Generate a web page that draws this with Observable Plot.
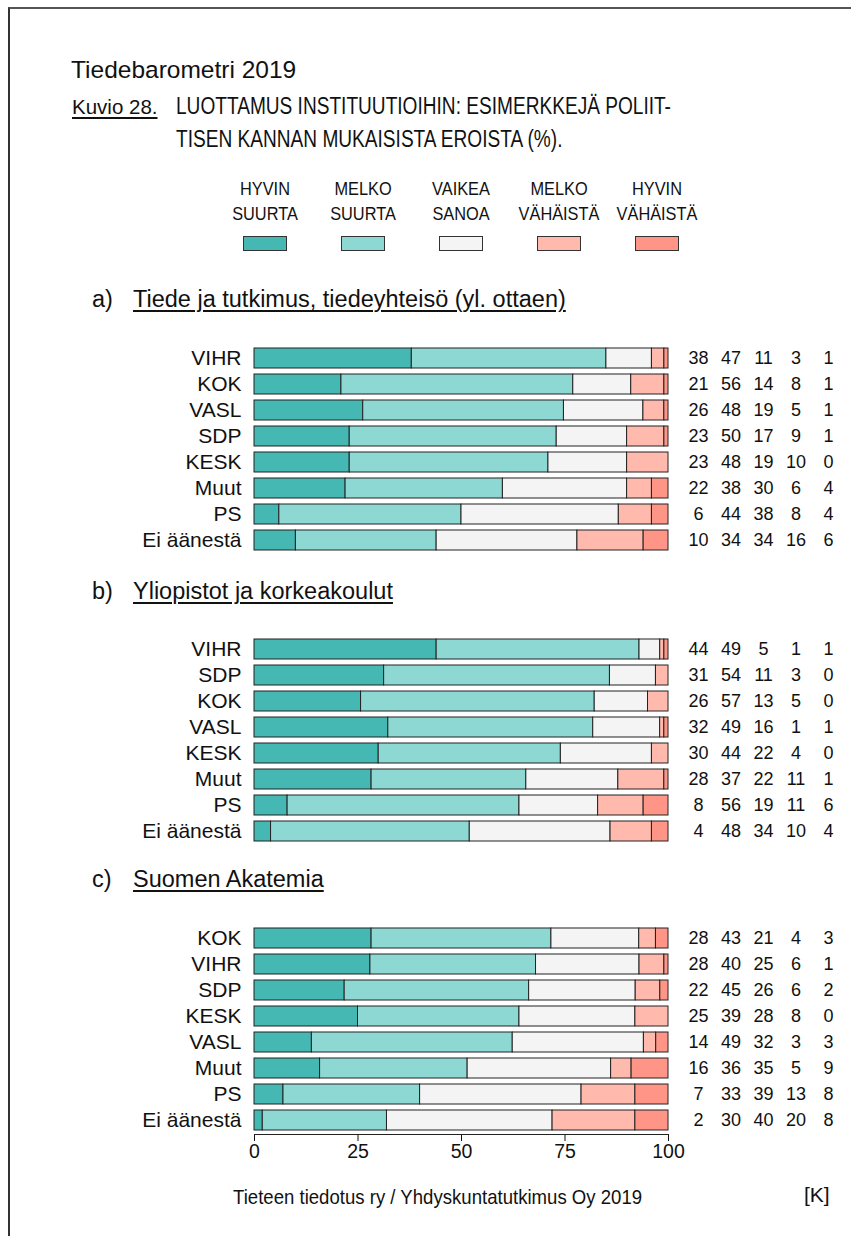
<!DOCTYPE html>
<html><head><meta charset="utf-8">
<script src="https://cdn.jsdelivr.net/npm/d3@7"></script>
<script src="https://cdn.jsdelivr.net/npm/@observablehq/plot@0.6"></script>
<style>
body{margin:0;background:#fff;}
#page{position:relative;width:851px;height:1236px;overflow:hidden;font-family:"Liberation Sans",Arial,sans-serif;color:#111;background:#fff;}
.abs{position:absolute;white-space:nowrap;line-height:1;}
.frame{position:absolute;left:8px;top:7px;width:900px;height:1300px;border-top:2px solid #555;border-left:2px solid #333;}
.sw{position:absolute;width:42px;height:13px;border:1px solid #333;}
.plot{position:absolute;left:0;}
</style></head><body><div id="page"><div class="frame"></div></div>
<script>
// ---- data ----
const categories = ["HYVIN SUURTA","MELKO SUURTA","VAIKEA SANOA","MELKO VÄHÄISTÄ","HYVIN VÄHÄISTÄ"];
const legendLines = [["HYVIN","SUURTA"],["MELKO","SUURTA"],["VAIKEA","SANOA"],["MELKO","VÄHÄISTÄ"],["HYVIN","VÄHÄISTÄ"]];
const colors = ["#45b8b3","#8ed8d3","#f4f4f4","#ffbaad","#ff9586"];

const titleA = "Tiede ja tutkimus, tiedeyhteisö (yl. ottaen)";
const partiesA = ["VIHR","KOK","VASL","SDP","KESK","Muut","PS","Ei äänestä"];
const valuesA = [[38,47,11,3,1],[21,56,14,8,1],[26,48,19,5,1],[23,50,17,9,1],[23,48,19,10,0],[22,38,30,6,4],[6,44,38,8,4],[10,34,34,16,6]];

const titleB = "Yliopistot ja korkeakoulut";
const partiesB = ["VIHR","SDP","KOK","VASL","KESK","Muut","PS","Ei äänestä"];
const valuesB = [[44,49,5,1,1],[31,54,11,3,0],[26,57,13,5,0],[32,49,16,1,1],[30,44,22,4,0],[28,37,22,11,1],[8,56,19,11,6],[4,48,34,10,4]];

const titleC = "Suomen Akatemia";
const partiesC = ["KOK","VIHR","SDP","KESK","VASL","Muut","PS","Ei äänestä"];
const valuesC = [[28,43,21,4,3],[28,40,25,6,1],[22,45,26,6,2],[25,39,28,8,0],[14,49,32,3,3],[16,36,35,5,9],[7,33,39,13,8],[2,30,40,20,8]];

const xTicks = [0,25,50,75,100];

// ---- layout helpers ----
const page = document.getElementById("page");
function addText(txt, left, top, size, extra = {}) {
  const d = document.createElement("div");
  d.className = "abs";
  d.textContent = txt;
  d.style.left = left + "px";
  d.style.top = top + "px";
  d.style.fontSize = size + "px";
  Object.assign(d.style, extra);
  page.appendChild(d);
  return d;
}
const narrow = {transform: "scaleX(0.83)", transformOrigin: "left top"};

addText("Tiedebarometri 2019", 71, 57.5, 24.5);
addText("Kuvio 28.", 72, 97, 20.5, {textDecoration:"underline", textUnderlineOffset:"3px"});
addText("LUOTTAMUS INSTITUUTIOIHIN: ESIMERKKEJÄ POLIIT-", 176, 94.5, 23, narrow);
addText("TISEN KANNAN MUKAISISTA EROISTA (%).", 176, 127.5, 23, narrow);

// legend
categories.forEach((c, i) => {
  const cx = 265 + 98 * i;
  legendLines[i].forEach((ln, k) => {
    addText(ln, cx - 60, 179 + 25 * k, 19, {width: "120px", textAlign: "center", transform: "scaleX(0.86)", transformOrigin: "center top"});
  });
  const s = document.createElement("div");
  s.className = "sw";
  s.style.left = (cx - 22) + "px";
  s.style.top = "236px";
  s.style.background = colors[i];
  page.appendChild(s);
});

// panel headings
function heading(letter, txt, top) {
  addText(letter, 92, top, 23.5);
  addText(txt, 133, top, 23.5, {textDecoration:"underline", textUnderlineOffset:"3px", textDecorationThickness:"1.5px"});
}
heading("a)", titleA, 288);
heading("b)", titleB, 580);
heading("c)", titleC, 868);

// ---- panels ----
const colStart = 30, colStep = 32.5;
function panel(parties, values, top, withAxis) {
  const rows = [];
  parties.forEach((p, i) => values[i].forEach((v, j) => rows.push({party: p, cat: categories[j], value: v, col: j})));
  const marks = [
    Plot.barX(rows, Plot.stackX({x: "value", y: "party", fill: "cat", order: categories, offset: "normalize", stroke: "#222", strokeWidth: 1})),
    Plot.axisY({tickSize: 0, tickPadding: 13, fontSize: 21, label: null}),
    ...categories.map((c, j) => Plot.text(rows.filter(d => d.col === j), {
      y: "party", text: d => String(d.value), frameAnchor: "right", dx: colStart + colStep * j,
      fontSize: 18, textAnchor: "middle", fill: "#111"
    }))
  ];
  if (withAxis) {
    marks.push(Plot.axisX(xTicks.map(t => t / 100), {tickFormat: d => String(Math.round(d * 100)), tickSize: 7, tickPadding: 3, fontSize: 19.5, label: null}));
    marks.push(Plot.frame({anchor: "bottom", stroke: "#222"}));
  }
  const chart = Plot.plot({
    width: 851,
    height: withAxis ? 264 : 229,
    marginLeft: 254, marginRight: 183, marginTop: 13, marginBottom: withAxis ? 40 : 5,
    x: {domain: [0, 1], axis: withAxis ? undefined : null},
    y: {domain: parties, paddingInner: 0.24, paddingOuter: 0.12},
    color: {domain: categories, range: colors},
    style: {fontFamily: '"Liberation Sans", Arial, sans-serif', fontSize: "20px", color: "#111", background: "transparent", overflow: "visible"},
    marks
  });
  chart.classList.add("plot");
  chart.style.position = "absolute";
  chart.style.left = "0px";
  chart.style.top = top + "px";
  page.appendChild(chart);
}
panel(partiesA, valuesA, 330, false);
panel(partiesB, valuesB, 621, false);
panel(partiesC, valuesC, 910, true);

addText("Tieteen tiedotus ry / Yhdyskuntatutkimus Oy 2019", 233, 1186, 21, {transform: "scaleX(0.885)", transformOrigin: "left top"});
addText("[K]", 804, 1184, 21);
</script>
</body></html>
